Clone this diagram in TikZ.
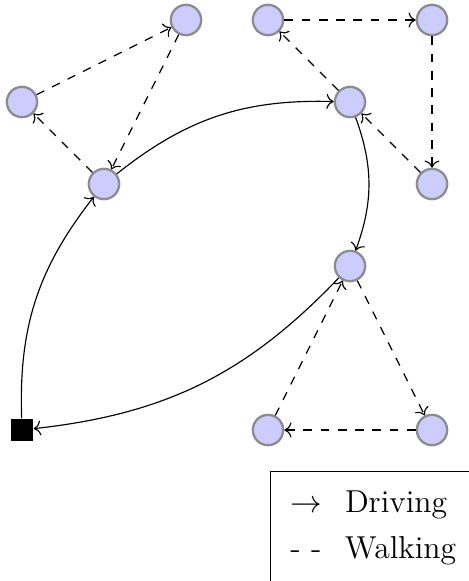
\documentclass[tikz,border=0pt]{standalone}
\usepackage{xcolor}
\definecolor{stopfill}{RGB}{204,204,255}
\definecolor{stopline}{RGB}{140,140,140}
\usepackage{tikz}
\usetikzlibrary{arrows.meta, positioning}

\begin{document}
\begin{tikzpicture}[
        stop/.style={circle, draw=stopline, fill=stopfill, line width=0.8pt, minimum size=0.37cm, inner sep=0pt},
        depot/.style={rectangle, fill=black, minimum size=0.27cm, inner sep=0pt},
        drive/.style={->, bend left=20},
        walk/.style={->, dashed}
    ]
        \useasboundingbox (-0.268,-1.841) rectangle (5.451,5.244);

        \node[depot] (depot) at (0, 0) {};

        \node[stop] (parkA) at (1, 3) {};
        \node[stop] (parkB) at (4, 4) {};
        \node[stop] (parkC) at (4, 2) {};

        \node[stop] (a1) at (0, 4) {};
        \node[stop] (a2) at (2, 5) {};
        \node[stop] (b1) at (3, 5) {};
        \node[stop] (b2) at (5, 5) {};
        \node[stop] (b3) at (5, 3) {};
        \node[stop] (c1) at (5, 0) {};
        \node[stop] (c2) at (3, 0) {};

        \draw[drive] (depot) to (parkA);
        \draw[drive] (parkA) to (parkB);
        \draw[drive] (parkB) to (parkC);
        \draw[drive] (parkC) to (depot);

        \draw[walk] (parkA) -- (a1);
        \draw[walk] (a1) -- (a2);
        \draw[walk] (a2) -- (parkA);
        \draw[walk] (parkB) -- (b1);
        \draw[walk] (b1) -- (b2);
        \draw[walk] (b2) -- (b3);
        \draw[walk] (b3) -- (parkB);
        \draw[walk] (parkC) -- (c1);
        \draw[walk] (c1) -- (c2);
        \draw[walk] (c2) -- (parkC);

        \node[draw, anchor=north west, inner sep=3pt, font=\fontsize{11pt}{16pt}\selectfont] (legend) at (3.02, -0.5) {%
            \setlength{\tabcolsep}{4pt}%
            \begin{tabular}{ll}
                $\rightarrow$ & Driving \\
                - - & Walking
            \end{tabular}};
    \end{tikzpicture}
\end{document}
